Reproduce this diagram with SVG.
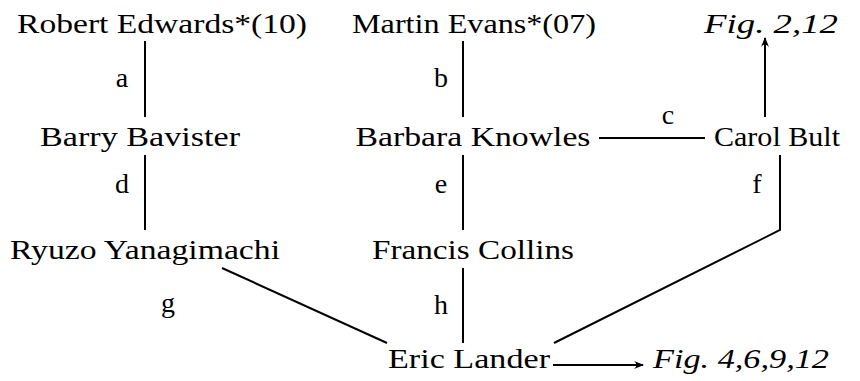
<svg xmlns="http://www.w3.org/2000/svg" width="860" height="381" viewBox="0 0 860 381">
<defs>
<marker id="ah" viewBox="0 0 10 10" refX="9" refY="5" markerWidth="10" markerHeight="10" markerUnits="userSpaceOnUse" orient="auto">
<path d="M0,1 Q5,5 0,9 L10,5 Z" fill="#000"/>
</marker>
</defs>
<rect width="860" height="381" fill="#fff"/>
<g font-family="Liberation Serif" font-size="28" fill="#000" text-anchor="middle">
<g id="connectors" stroke="#000" stroke-width="2" fill="none">
<line x1="145" y1="41" x2="145" y2="117"/>
<line x1="463" y1="41" x2="463" y2="117"/>
<line x1="765" y1="117" x2="765" y2="38" marker-end="url(#ah)"/>
<line x1="599" y1="138" x2="705" y2="138"/>
<line x1="145" y1="155" x2="145" y2="230"/>
<line x1="463" y1="155" x2="463" y2="230"/>
<polyline points="780,155 780,230 554,343"/>
<line x1="222" y1="268" x2="387" y2="343"/>
<line x1="463" y1="268" x2="463" y2="343"/>
<line x1="553" y1="365" x2="643" y2="365" marker-end="url(#ah)"/>
<g stroke="none" fill="#000">
<text x="122" y="87">a</text>
<text x="441" y="87">b</text>
<text x="668" y="124">c</text>
<text x="122" y="193">d</text>
<text x="441" y="193">e</text>
<text x="757" y="193">f</text>
<text x="168" y="312">g</text>
<text x="441" y="314">h</text>
</g>
</g>
<g id="robert"><text x="162" y="33" textLength="290" lengthAdjust="spacingAndGlyphs">Robert Edwards*(10)</text></g>
<g id="martin"><text x="474" y="33" textLength="244" lengthAdjust="spacingAndGlyphs">Martin Evans*(07)</text></g>
<g id="fig1"><text font-style="italic" x="771" y="33" textLength="134" lengthAdjust="spacingAndGlyphs">Fig. 2,12</text></g>
<g id="barry"><text x="140" y="146" textLength="200" lengthAdjust="spacingAndGlyphs">Barry Bavister</text></g>
<g id="barbara"><text x="473" y="146" textLength="235" lengthAdjust="spacingAndGlyphs">Barbara Knowles</text></g>
<g id="carol"><text x="777" y="146" textLength="126" lengthAdjust="spacingAndGlyphs">Carol Bult</text></g>
<g id="ryuzo"><text x="145" y="259" textLength="270" lengthAdjust="spacingAndGlyphs">Ryuzo Yanagimachi</text></g>
<g id="francis"><text x="473" y="259" textLength="202" lengthAdjust="spacingAndGlyphs">Francis Collins</text></g>
<g id="eric"><text x="469" y="368" textLength="162" lengthAdjust="spacingAndGlyphs">Eric Lander</text></g>
<g id="fig2"><text font-style="italic" x="741" y="368" textLength="176" lengthAdjust="spacingAndGlyphs">Fig. 4,6,9,12</text></g>
</g>
</svg>
